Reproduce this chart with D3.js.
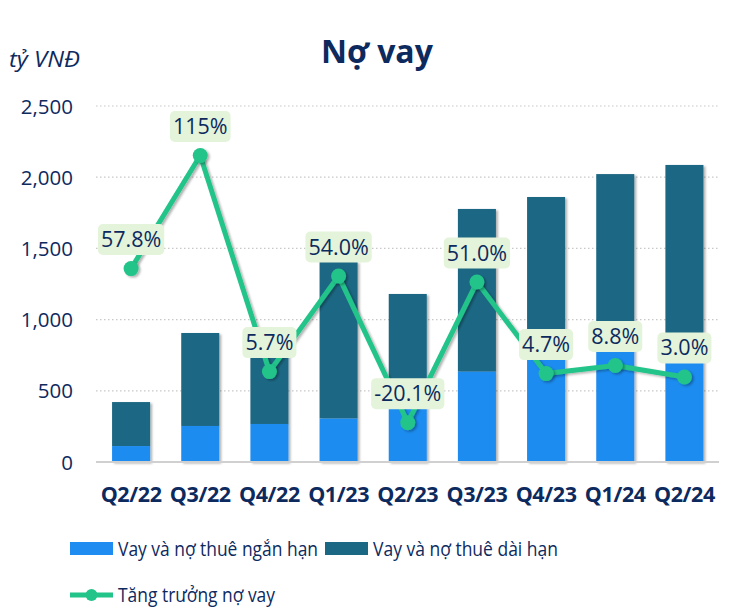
<!DOCTYPE html>
<html><head><meta charset="utf-8">
<script src="https://cdn.jsdelivr.net/npm/d3@7"></script>
<style>body{margin:0;background:#fff;} svg{display:block;font-family:"Open Sans","Noto Sans",sans-serif;}</style>
</head><body>
<script>
const categories = ["Q2/22","Q3/22","Q4/22","Q1/23","Q2/23","Q3/23","Q4/23","Q1/24","Q2/24"];
const shortTerm = [112, 253, 267, 305, 390, 634, 730, 790, 720];
const longTerm  = [309, 653, 648, 1102, 790, 1143, 1131, 1232, 1366];
const growth    = [57.8, 115, 5.7, 54.0, -20.1, 51.0, 4.7, 8.8, 3.0];
const growthLabels = ["57.8%","115%","5.7%","54.0%","-20.1%","51.0%","4.7%","8.8%","3.0%"];
const yTicks = [0, 500, 1000, 1500, 2000, 2500];
const seriesNames = ["Vay và nợ thuê ngắn hạn", "Vay và nợ thuê dài hạn", "Tăng trưởng nợ vay"];

const W = 752, H = 614;
const navy = "#0d2a5e", cShort = "#1e8cf0", cLong = "#1b6884", cLine = "#22c48a", cLabel = "#e3f4da";
const svg = d3.select("body").append("svg").attr("width", W).attr("height", H);

const defs = svg.append("defs");
const f = defs.append("filter").attr("id","sh").attr("x","-20%").attr("y","-20%").attr("width","150%").attr("height","150%");
f.append("feDropShadow").attr("dx",2).attr("dy",1.5).attr("stdDeviation",1.2).attr("flood-color","#000").attr("flood-opacity",0.3);

const x = d3.scaleBand().domain(categories).range([96.5, 719]).paddingInner(0.45).paddingOuter(0.225);
const y = d3.scaleLinear().domain([0, 2500]).range([462, 106]);
const y2 = d3.scaleLinear().domain([-40, 140]).range([462, 106]);

// title
svg.append("text").attr("x", 377).attr("y", 63).attr("text-anchor","middle")
  .attr("font-size", 32).attr("font-weight", 700).attr("fill", navy).text("Nợ vay");
svg.append("text").attr("x", 9).attr("y", 67).attr("font-size", 21).attr("font-style","italic")
  .attr("fill", navy).attr("textLength", 71).attr("lengthAdjust","spacingAndGlyphs").text("tỷ VNĐ");

// gridlines
svg.append("g").selectAll("line").data(yTicks.filter(d=>d>0)).join("line")
  .attr("x1", 96).attr("x2", 719).attr("y1", d=>y(d)).attr("y2", d=>y(d))
  .attr("stroke", "#c8c8c8").attr("stroke-width", 1.2).attr("stroke-dasharray", "1.5,2.5");

// y axis
const yAxis = d3.axisLeft(y).tickValues(yTicks).tickFormat(d3.format(",")).tickSize(0).tickPadding(0);
const ga = svg.append("g").attr("transform","translate(73,0)").call(yAxis);
ga.select(".domain").remove();
ga.selectAll("text").attr("font-size", 20.5).attr("fill", navy).attr("font-family","'Open Sans',sans-serif").attr("dy","0.35em");

// bars
const stackData = categories.map((c,i)=>({cat:c, s:shortTerm[i], l:longTerm[i]}));
const gb = svg.append("g");
gb.selectAll("rect.l").data(stackData).join("rect").attr("class","l")
  .attr("x", d=>x(d.cat)).attr("width", x.bandwidth())
  .attr("y", d=>y(d.s + d.l)).attr("height", d=>y(d.s) - y(d.s + d.l))
  .attr("fill", cLong).attr("filter","url(#sh)");
gb.selectAll("rect.s").data(stackData).join("rect").attr("class","s")
  .attr("x", d=>x(d.cat)).attr("width", x.bandwidth())
  .attr("y", d=>y(d.s)).attr("height", d=>y(0) - y(d.s))
  .attr("fill", cShort).attr("filter","url(#sh)");

// x axis
const xAxis = d3.axisBottom(x).tickSize(0).tickPadding(0);
const gx = svg.append("g").attr("transform","translate(0,462)").call(xAxis);
gx.select(".domain").attr("stroke","#d0d0d0").attr("stroke-width",2).attr("d","M96,0H719");
gx.selectAll("text").attr("font-size", 21.5).attr("font-weight",700).attr("fill", navy)
  .attr("font-family","'Open Sans',sans-serif").attr("y", 40).attr("dy", 0).attr("letter-spacing", -0.4);

// line
const cx = (i)=> x(categories[i]) + x.bandwidth()/2;
const line = d3.line().x((d,i)=>cx(i)).y(d=>y2(d));
svg.append("path").datum(growth).attr("d", line).attr("fill","none")
  .attr("stroke", cLine).attr("stroke-width", 5).attr("stroke-linejoin","round").attr("filter","url(#sh)");
svg.append("g").selectAll("circle").data(growth).join("circle")
  .attr("cx",(d,i)=>cx(i)).attr("cy", d=>y2(d)).attr("r", 7.5).attr("fill", cLine).attr("filter","url(#sh)");

// labels
const gl = svg.append("g").selectAll("g").data(growth).join("g")
  .attr("transform",(d,i)=>`translate(${cx(i)},${y2(d)-29})`);
gl.each(function(d,i){
  const g = d3.select(this);
  const t = g.append("text").attr("text-anchor","middle").attr("dy","0.35em")
    .attr("font-size", 21.5).attr("fill", navy).text(growthLabels[i]);
  const bb = t.node().getBBox();
  g.insert("rect","text").attr("x", bb.x-3).attr("y", -15.5).attr("width", bb.width+6).attr("height", 31)
    .attr("rx", 5).attr("fill", cLabel);
});

// legend
const lg = svg.append("g");
lg.append("rect").attr("x",70).attr("y",542).attr("width",43).attr("height",13).attr("fill",cShort);
lg.append("text").attr("x",118).attr("y",549).attr("dy","0.35em").attr("font-size",20).attr("fill",navy)
  .attr("textLength",200).attr("lengthAdjust","spacingAndGlyphs").text(seriesNames[0]);
lg.append("rect").attr("x",325).attr("y",542).attr("width",43).attr("height",13).attr("fill",cLong);
lg.append("text").attr("x",373).attr("y",549).attr("dy","0.35em").attr("font-size",20).attr("fill",navy)
  .attr("textLength",185).attr("lengthAdjust","spacingAndGlyphs").text(seriesNames[1]);
lg.append("line").attr("x1",70).attr("x2",113).attr("y1",595).attr("y2",595).attr("stroke",cLine).attr("stroke-width",5);
lg.append("circle").attr("cx",91.5).attr("cy",595).attr("r",6).attr("fill",cLine);
lg.append("text").attr("x",118).attr("y",595).attr("dy","0.35em").attr("font-size",20).attr("fill",navy)
  .attr("textLength",157).attr("lengthAdjust","spacingAndGlyphs").text(seriesNames[2]);
</script>
</body></html>
